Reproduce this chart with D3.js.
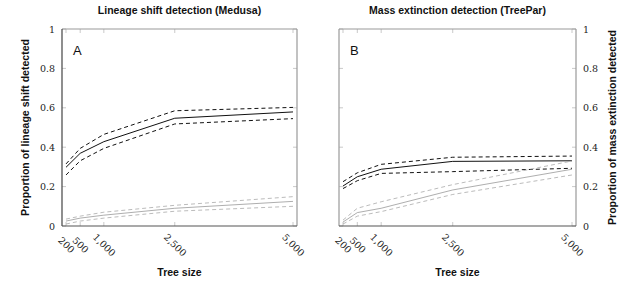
<!DOCTYPE html>
<meta charset="utf-8" />
<title>Detection power vs tree size</title>
<style>
  body { margin: 0; background: #fff; }
  .tick text { font-family: "DejaVu Serif", serif; font-size: 9.5px; fill: #222; }
  .title { font: bold 10.5px "Liberation Sans", sans-serif; fill: #111; }
  .axlabel { font: bold 10.5px "Liberation Sans", sans-serif; fill: #111; }
  .panel-tag { font: 13px "Liberation Sans", sans-serif; fill: #111; }
  .line { fill: none; }
</style>
<body>
<script src="https://d3js.org/d3.v7.min.js"></script>
<script>
  var treeSizes = [200, 500, 1000, 2500, 5000];
  var tickLabels = ["200", "500", "1,000", "2,500", "5,000"];
  var yTicks = [0, 0.2, 0.4, 0.6, 0.8, 1];

  // Medusa (A)
  var medusaMean = [0.298, 0.369, 0.428, 0.547, 0.579];
  var medusaHigh = [0.315, 0.394, 0.465, 0.585, 0.602];
  var medusaLow = [0.259, 0.331, 0.394, 0.518, 0.545];
  var medusaNullMean = [0.025, 0.04, 0.055, 0.09, 0.125];
  var medusaNullHigh = [0.035, 0.05, 0.07, 0.105, 0.149];
  var medusaNullLow = [0.01, 0.025, 0.04, 0.075, 0.10];

  // TreePar (B)
  var treeparMean = [0.203, 0.25, 0.288, 0.328, 0.331];
  var treeparHigh = [0.225, 0.27, 0.313, 0.349, 0.355];
  var treeparLow = [0.19, 0.23, 0.267, 0.276, 0.293];
  var treeparNullMean = [0.02, 0.068, 0.09, 0.183, 0.288];
  var treeparNullHigh = [0.03, 0.09, 0.123, 0.21, 0.33];
  var treeparNullLow = [0.01, 0.05, 0.073, 0.16, 0.259];

  var W = 628, H = 282;
  var svg = d3.select("body").append("svg").attr("width", W).attr("height", H);

  var panels = [
    {
      left: 62, right: 297, top: 29, bottom: 226,
      title: "Lineage shift detection (Medusa)",
      ylabel: "Proportion of lineage shift detected",
      tag: "A", ySide: "left",
      series: [
        [medusaMean, "#111", null], [medusaHigh, "#111", "4,3"], [medusaLow, "#111", "4,3"],
        [medusaNullMean, "#999", null], [medusaNullHigh, "#aaa", "4,3"], [medusaNullLow, "#aaa", "4,3"]
      ]
    },
    {
      left: 339, right: 576, top: 29, bottom: 226,
      title: "Mass extinction detection (TreePar)",
      ylabel: "Proportion of mass extinction detected",
      tag: "B", ySide: "right",
      series: [
        [treeparMean, "#111", null], [treeparHigh, "#111", "4,3"], [treeparLow, "#111", "4,3"],
        [treeparNullMean, "#999", null], [treeparNullHigh, "#aaa", "4,3"], [treeparNullLow, "#aaa", "4,3"]
      ]
    }
  ];

  panels.forEach(function (p) {
    var pad = 4;
    var x = d3.scaleLinear().domain([200, 5000]).range([p.left + pad, p.right - pad]);
    var y = d3.scaleLinear().domain([0, 1]).range([p.bottom, p.top]);
    var g = svg.append("g");

    // ticks inside the frame
    treeSizes.forEach(function (t) {
      [p.bottom, p.top].forEach(function (yy, i) {
        g.append("line")
          .attr("x1", x(t)).attr("x2", x(t))
          .attr("y1", yy).attr("y2", i ? yy + 4 : yy - 4)
          .attr("stroke", "#bbb").attr("stroke-width", 0.8);
      });
    });
    yTicks.forEach(function (t) {
      [p.left, p.right].forEach(function (xx, i) {
        g.append("line")
          .attr("x1", xx).attr("x2", i ? xx - 4 : xx + 4)
          .attr("y1", y(t)).attr("y2", y(t))
          .attr("stroke", "#bbb").attr("stroke-width", 0.8);
      });
    });

    // series
    var line = d3.line()
      .x(function (d, i) { return x(treeSizes[i]); })
      .y(function (d) { return y(d); });
    p.series.forEach(function (s) {
      g.append("path")
        .attr("class", "line")
        .attr("d", line(s[0]))
        .attr("stroke", s[1])
        .attr("stroke-width", s[1] === "#111" ? 1 : 0.8)
        .attr("stroke-dasharray", s[2]);
    });

    // frame
    var dark = "#444", light = "#999";
    var leftCol = p.ySide === "left" ? dark : light;
    g.append("line").attr("x1", p.left).attr("x2", p.right).attr("y1", p.top).attr("y2", p.top)
      .attr("stroke", light).attr("stroke-width", 1.2);
    g.append("line").attr("x1", p.right).attr("x2", p.right).attr("y1", p.top).attr("y2", p.bottom)
      .attr("stroke", light).attr("stroke-width", 1.2);
    g.append("line").attr("x1", p.left).attr("x2", p.left).attr("y1", p.top).attr("y2", p.bottom)
      .attr("stroke", leftCol).attr("stroke-width", 1.2);
    g.append("line").attr("x1", p.left).attr("x2", p.right).attr("y1", p.bottom).attr("y2", p.bottom)
      .attr("stroke", "#555").attr("stroke-width", 1.2);

    // y tick labels
    var yAxis = p.ySide === "left" ? d3.axisLeft(y) : d3.axisRight(y);
    yAxis.tickValues(yTicks).tickSize(0).tickPadding(7)
      .tickFormat(function (d) { return d === 0 || d === 1 ? d3.format("d")(d) : d3.format(".1f")(d); });
    var ya = g.append("g")
      .attr("transform", "translate(" + (p.ySide === "left" ? p.left : p.right) + ",0)")
      .call(yAxis);
    ya.select(".domain").remove();

    // x tick labels, rotated
    var xa = g.append("g").attr("transform", "translate(0," + p.bottom + ")")
      .call(d3.axisBottom(x).tickValues(treeSizes).tickSize(0)
        .tickFormat(function (d, i) { return tickLabels[i]; }));
    xa.select(".domain").remove();
    xa.selectAll(".tick text")
      .attr("y", 0).attr("dy", 0)
      .attr("text-anchor", "middle")
      .attr("dominant-baseline", "central")
      .attr("transform", "translate(0,19) rotate(45)");

    // titles and labels
    g.append("text").attr("class", "title")
      .attr("x", (p.left + p.right) / 2).attr("y", 14)
      .attr("text-anchor", "middle").text(p.title);
    g.append("text").attr("class", "axlabel")
      .attr("x", (p.left + p.right) / 2).attr("y", 276)
      .attr("text-anchor", "middle").text("Tree size");
    var lx = p.ySide === "left" ? 25 : 612;
    g.append("text").attr("class", "axlabel")
      .attr("transform", "translate(" + lx + "," + (p.top + p.bottom) / 2 + ") rotate(-90)")
      .attr("text-anchor", "middle").attr("dominant-baseline", "central")
      .text(p.ylabel);
    g.append("text").attr("class", "panel-tag")
      .attr("x", p.left + 11).attr("y", 55).text(p.tag);
  });
</script>
</body>
